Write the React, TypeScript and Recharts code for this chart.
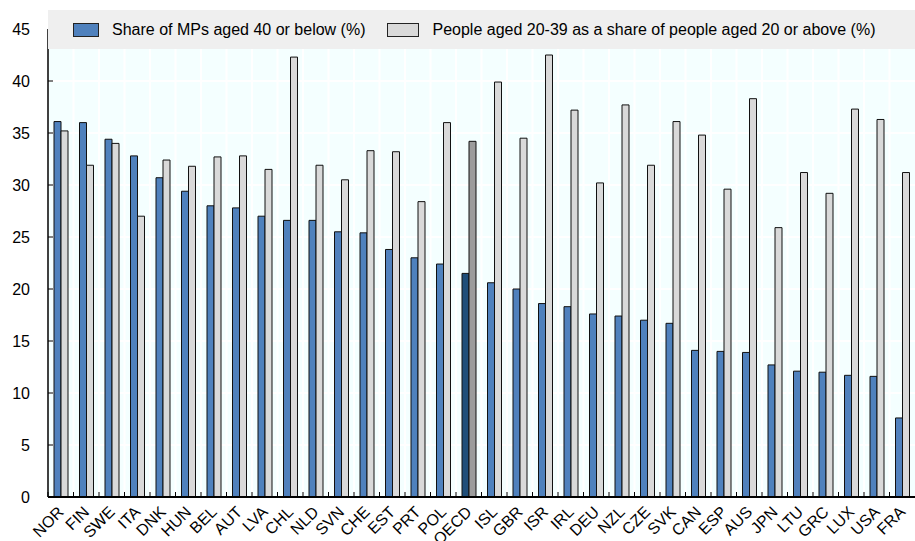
import { BarChart, Bar, XAxis, YAxis, CartesianGrid, Cell } from "recharts";

const countries = [
  "NOR", "FIN", "SWE", "ITA", "DNK", "HUN", "BEL", "AUT", "LVA", "CHL", "NLD", "SVN",
  "CHE", "EST", "PRT", "POL", "OECD", "ISL", "GBR", "ISR", "IRL", "DEU", "NZL", "CZE",
  "SVK", "CAN", "ESP", "AUS", "JPN", "LTU", "GRC", "LUX", "USA", "FRA",
];
const mpShare = [
  36.1, 36.0, 34.4, 32.8, 30.7, 29.4, 28.0, 27.8, 27.0, 26.6, 26.6, 25.5,
  25.4, 23.8, 23.0, 22.4, 21.5, 20.6, 20.0, 18.6, 18.3, 17.6, 17.4, 17.0,
  16.7, 14.1, 14.0, 13.9, 12.7, 12.1, 12.0, 11.7, 11.6, 7.6,
];
const youngShare = [
  35.2, 31.9, 34.0, 27.0, 32.4, 31.8, 32.7, 32.8, 31.5, 42.3, 31.9, 30.5,
  33.3, 33.2, 28.4, 36.0, 34.2, 39.9, 34.5, 42.5, 37.2, 30.2, 37.7, 31.9,
  36.1, 34.8, 29.6, 38.3, 25.9, 31.2, 29.2, 37.3, 36.3, 31.2,
];
const yTicks = [0, 5, 10, 15, 20, 25, 30, 35, 40, 45];
const seriesNames = [
  "Share of MPs aged 40 or below (%)",
  "People aged 20-39 as a share of people aged 20 or above (%)",
];

const W = 915;
const H = 541;
const Y_AXIS_W = 48;
const STEP = (W - Y_AXIS_W) / countries.length;
const FONT = "'Liberation Sans', Arial, sans-serif";

const BLUE = "#4f81bd";
const GREY = "#d9d9d9";
const OECD_BLUE = "#1f4e79";
const OECD_GREY = "#9c9c9c";

const data = countries.map((name, i) => ({
  name,
  mps: mpShare[i],
  young: youngShare[i],
}));

// country code under each group, slanted 45deg and ending just past the group centre;
// the small tick sits on the left edge of the group
const CountryTick = (props: any) => {
  const { x, y, payload } = props;
  return (
    <g>
      <line
        x1={x - STEP / 2}
        x2={x - STEP / 2}
        y1={y - 5}
        y2={y}
        stroke="#000"
        strokeWidth={1}
      />
      <text
        transform={`translate(${x + 4},${y + 16}) rotate(-45)`}
        textAnchor="end"
        fontSize={16}
        fontFamily={FONT}
        fill="#000"
      >
        {payload.value}
      </text>
    </g>
  );
};

const ValueTick = (props: any) => {
  const { x, y, payload } = props;
  return (
    <g transform={`translate(${x},${y})`}>
      <line x1={0} x2={5} y1={0} y2={0} stroke="#000" strokeWidth={1} />
      <text x={-18} y={6} textAnchor="end" fontSize={16} fontFamily={FONT} fill="#000">
        {payload.value}
      </text>
    </g>
  );
};

const Swatch = ({ color, width }: { color: string; width: number }) => (
  <span
    style={{
      display: "inline-block",
      width,
      height: 14,
      background: color,
      border: "1px solid #222",
      marginRight: 13,
      boxSizing: "border-box",
    }}
  />
);

export default function App() {
  return (
    <div style={{ position: "absolute", left: 0, top: 0, width: W, height: H, background: "#fff" }}>
      <BarChart
        width={W}
        height={H}
        data={data}
        margin={{ top: 29, right: 0, bottom: 0, left: 0 }}
        barGap={0}
        barSize={7}
      >
        <CartesianGrid
          fill="#f4ffff"
          stroke="#ffffff"
          strokeWidth={2}
          verticalCoordinatesGenerator={({ offset }: any) =>
            countries.map((_, i) => offset.left + (i * offset.width) / countries.length)
          }
        />
        <XAxis
          dataKey="name"
          interval={0}
          height={44}
          tickLine={false}
          tickSize={0}
          tickMargin={0}
          tick={<CountryTick />}
          axisLine={{ stroke: "#000", strokeWidth: 2 }}
        />
        <YAxis
          width={Y_AXIS_W}
          domain={[0, 45]}
          ticks={yTicks}
          interval={0}
          tickLine={false}
          tickSize={0}
          tickMargin={0}
          tick={<ValueTick />}
          axisLine={{ stroke: "#000", strokeWidth: 1.5 }}
        />
        <Bar dataKey="mps" name={seriesNames[0]} fill={BLUE} stroke="#111" strokeWidth={1} isAnimationActive={false}>
          {countries.map((c) => (
            <Cell key={c} fill={c === "OECD" ? OECD_BLUE : BLUE} />
          ))}
        </Bar>
        <Bar dataKey="young" name={seriesNames[1]} fill={GREY} stroke="#111" strokeWidth={1} isAnimationActive={false}>
          {countries.map((c) => (
            <Cell key={c} fill={c === "OECD" ? OECD_GREY : GREY} />
          ))}
        </Bar>
      </BarChart>
      <div
        style={{
          position: "absolute",
          left: 48,
          top: 10,
          width: W - 48,
          height: 39,
          background: "#efefef",
          display: "flex",
          alignItems: "center",
          paddingLeft: 25,
          boxSizing: "border-box",
          fontFamily: FONT,
          fontSize: 16,
          color: "#000",
          whiteSpace: "nowrap",
        }}
      >
        <Swatch color={BLUE} width={26} />
        <span style={{ marginRight: 22 }}>{seriesNames[0]}</span>
        <Swatch color={GREY} width={32} />
        <span>{seriesNames[1]}</span>
      </div>
    </div>
  );
}
